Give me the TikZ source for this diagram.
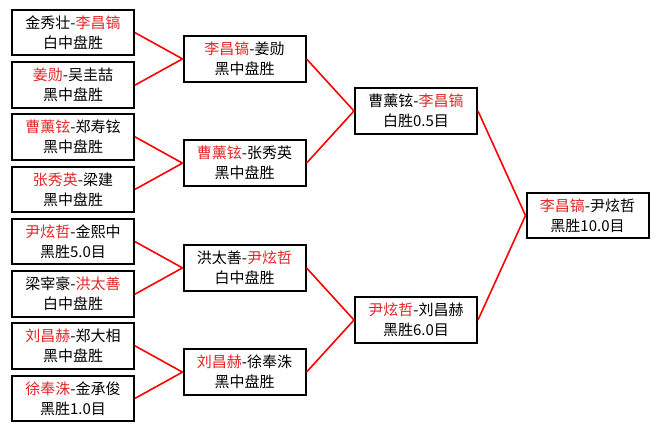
\documentclass[tikz,border=0pt]{standalone}
\usepackage{fontspec}
\setmainfont{Noto Sans CJK SC}
\usepackage{tikz}
\usetikzlibrary{trees}
\definecolor{winred}{RGB}{228,38,38}
\newcommand{\wn}[1]{\textcolor{winred}{#1}}

\begin{document}
\begin{tikzpicture}
[grow = 180,level distance=171.5pt]
\tikzset{
	game/.style = {rectangle, draw = black, line width = 2pt, fill = white, minimum width = 122pt, minimum height = 45.5pt, inner sep = 0, align = center, font = \fontsize{15pt}{20pt}\selectfont},
	edge from parent/.style = {draw = red, line width = 1.6pt},
	edge from parent path = {(\tikzparentnode.west) -- (\tikzchildnode.east)},
	level 1/.style = {sibling distance=209pt},
	level 2/.style = {sibling distance=104.25pt},
	level 3/.style = {sibling distance=52.5pt}
}
\useasboundingbox [fill = white] (0,0) rectangle (659pt,-429pt);

\node(final) [game] at (587.5pt,-215.5pt) {\wn{李昌镐}-尹炫哲\\黑胜10.0目}
	child{
		node(sf1) [game]{曹薰铉-\wn{李昌镐}\\白胜0.5目}
		child{
			node(qf1) [game]{\wn{李昌镐}-姜勋\\黑中盘胜}
			child{
				node(r1) [game]{金秀壮-\wn{李昌镐}\\白中盘胜}
			}
			child{
				node(r2) [game]{\wn{姜勋}-吴圭喆\\黑中盘胜}
			}
		}
		child{
			node(qf2) [game]{\wn{曹薰铉}-张秀英\\黑中盘胜}
			child{
				node(r3) [game]{\wn{曹薰铉}-郑寿铉\\黑中盘胜}
			}
			child{
				node(r4) [game]{\wn{张秀英}-梁建\\黑中盘胜}
			}
		}
	}
	child{
		node(sf2) [game]{\wn{尹炫哲}-刘昌赫\\黑胜6.0目}
		child{
			node(qf3) [game]{洪太善-\wn{尹炫哲}\\白中盘胜}
			child{
				node(r5) [game]{\wn{尹炫哲}-金熙中\\黑胜5.0目}
			}
			child{
				node(r6) [game]{梁宰豪-\wn{洪太善}\\白中盘胜}
			}
		}
		child{
			node(qf4) [game]{\wn{刘昌赫}-徐奉洙\\黑中盘胜}
			child{
				node(r7) [game]{\wn{刘昌赫}-郑大相\\黑中盘胜}
			}
			child{
				node(r8) [game]{\wn{徐奉洙}-金承俊\\黑胜1.0目}
			}
		}
	}
;

\end{tikzpicture}
\end{document}
